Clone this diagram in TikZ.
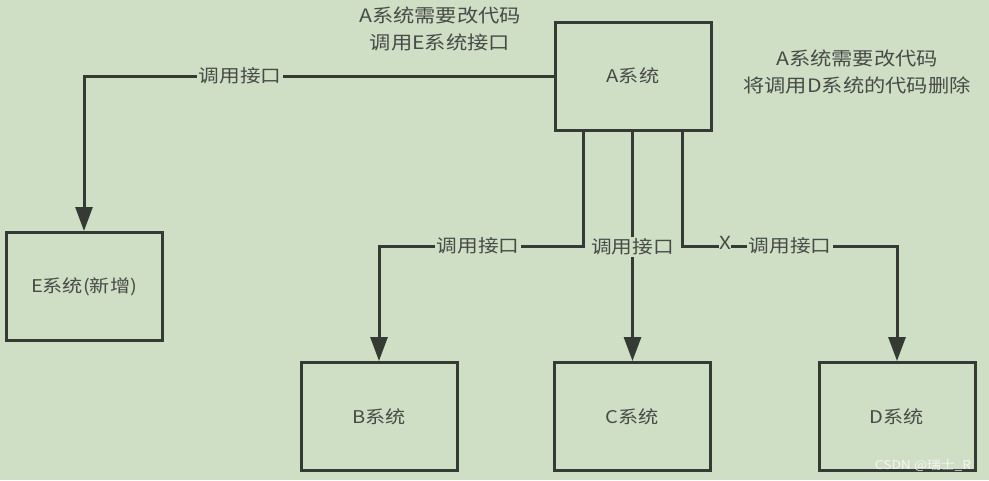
\documentclass[tikz,border=0pt]{standalone}
\usepackage{fontspec}
\setmainfont{Noto Sans CJK SC}[FakeStretch=1.15]
\usetikzlibrary{arrows.meta}
\definecolor{bg}{HTML}{CFDFC5}
\definecolor{ln}{HTML}{353A35}
\definecolor{tx}{HTML}{474A47}
\tikzset{
  sysbox/.style={draw=ln, line width=3pt, minimum width=156pt, minimum height=108pt, inner sep=0pt, font=\fontsize{17.5}{20}\selectfont, text=tx},
  conn/.style={draw=ln, line width=3pt},
  arr/.style={conn, -{Triangle[length=24pt,width=17pt]}},
  lbl/.style={fill=bg, inner sep=2pt, font=\fontsize{18}{20}\selectfont, text=tx},
  note/.style={align=center, font=\fontsize{18.5}{27}\selectfont, text=tx},
}
\begin{document}
\begin{tikzpicture}[x=1pt,y=-1pt]
\fill[bg] (0,0) rectangle (989,480);
\useasboundingbox (0,0) rectangle (989,480);

\node[sysbox] (A) at (633,76) {A系统};
\node[sysbox] (E) at (84,286.5) {E系统(新增)};
\node[sysbox] (B) at (379,416.5) {B系统};
\node[sysbox] (C) at (632.5,416.5) {C系统};
\node[sysbox] (D) at (897,416.5) {D系统};

\coordinate (ab) at (583,131);
\coordinate (ad) at (682,131);

\draw[arr] (A.west) -| (E.north);
\node[lbl] (l0) at (240,76) {调用接口};
\draw[arr] (ab) |- (379,246) -- (B.north);
\node[lbl] (l1) at (478,246) {调用接口};
\draw[arr] (A.south -| C.north) -- (C.north);
\node[lbl] (l2) at (632.5,247) {调用接口};
\draw[arr] (ad) |- (897,246) -- (D.north);
\node[lbl] (l3) at (790,246) {调用接口};
\node[lbl, inner sep=0pt] (x) at (725,243) {X};

\node[note] (n1) at (440,29) {A系统需要改代码\\调用E系统接口};
\node[note] (n2) at (857,72) {A系统需要改代码\\将调用D系统的代码删除};

\node[font=\fontsize{12}{14}\selectfont, text=white!92!gray] (wm) at (923,465) {CSDN @瑞士\_R};
\end{tikzpicture}
\end{document}
